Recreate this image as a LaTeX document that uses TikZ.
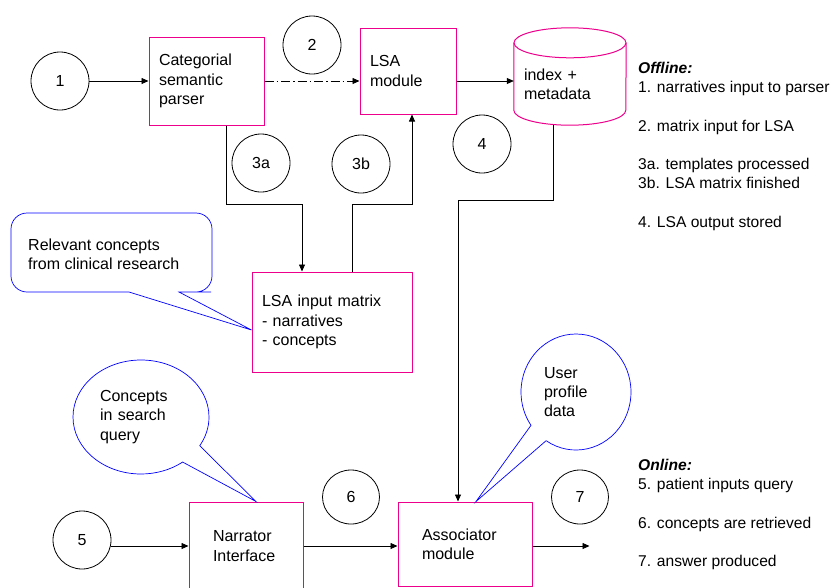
\documentclass[tikz,border=0pt]{standalone}
\usepackage{fontspec}
\setmainfont{Liberation Sans}
\usetikzlibrary{positioning,shapes,arrows.meta}

\begin{document}
\begin{tikzpicture}[
            x=1pt, y=1pt,
            every node/.style={ font=\fontsize{16pt}{19.2pt}\selectfont },
            numcirc/.style={ draw, circle, line width=0.8pt, minimum size=58pt, inner sep=0pt },
            numoval/.style={ draw, ellipse, line width=0.8pt, minimum width=57pt, minimum height=54pt, inner sep=0pt },
            module/.style={ draw=magenta, line width=1pt, align=left, inner xsep=10pt, inner ysep=0pt },
            note/.style={ draw=blue, line width=0.7pt, align=left, inner sep=0pt },
            legend/.style={ anchor=north west, align=left, inner sep=0pt, font=\fontsize{15.6pt}{19.2pt}\selectfont },
            flow/.style={ line width=0.8pt, -{Triangle[length=7pt,width=6pt]} }
        ]
        \useasboundingbox (0,0) rectangle (833,-587);

        % offline part
        \node[module, text width=95pt, minimum height=88pt] (parser) at (206.5,-81) {Categorial\\semantic\\parser};
        \node[module, text width=76pt, minimum height=86pt] (lsa) at (408,-71) {LSA\\module};
        \node[align=left, text width=92pt, inner xsep=10pt, inner ysep=0pt, minimum height=82pt] (store) at (570,-84) {index +\\metadata};
        \draw[magenta, line width=1pt] (store.north west) -- ([yshift=15pt]store.south west)
            arc[start angle=180, end angle=360, x radius=56pt, y radius=15pt] -- (store.north east);
        \draw[magenta, line width=1pt] (store.north) ellipse[x radius=56pt, y radius=15pt];
        \node[module, text width=140pt, minimum height=100pt] (matrix) at (332,-322) {LSA input matrix\\- narratives\\- concepts};

        \node[numcirc] (c1) at (60,-81) {1};
        \node[numcirc] (c2) at (312,-45) {2};
        \node[numcirc] (c3a) at (261,-163) {3a};
        \node[numcirc] (c3b) at (361,-164) {3b};
        \node[numcirc] (c4) at (482,-144) {4};

        % online part
        \node[module, inner xsep=24pt, text width=66pt, minimum height=88pt] (narr) at (246,-546) {Narrator\\Interface};
        \node[module, inner xsep=24pt, text width=86pt, minimum height=84pt] (assoc) at (465,-544) {Associator\\module};
        \coordinate (answer) at ([xshift=57pt]narr.east -| assoc.east);

        \node[numcirc] (c5) at (82,-540) {5};
        \node[numoval] (c6) at (351,-497) {6};
        \node[numoval] (c7) at (580,-497) {7};

        % notes
        \node[align=left, anchor=west, inner sep=0pt] (research) at (28,-254) {Relevant concepts\\from clinical research};
        \draw[blue, line width=0.7pt] ([yshift=-8pt]matrix.west) -- (129,-292) -- (120,-292) [rounded corners=16pt] -- (11,-292)
            -- (11,-213) -- (212,-213) -- (212,-292) -- (195,-292) [sharp corners] -- (179,-292) -- cycle;
        \node[note, ellipse callout, minimum width=136pt, minimum height=114pt, text width=82pt,
            callout absolute pointer={([xshift=10pt]narr.north)}, callout pointer arc=22] (query) at (141,-417) {Concepts\\in search\\query};
        \node[note, ellipse callout, minimum width=110pt, minimum height=116pt, text width=64pt,
            callout absolute pointer={([xshift=11pt]assoc.north)}, callout pointer arc=22] (profile) at (576,-392) {User\\profile\\data};

        % connectors
        \draw[flow] (c1) -- (parser.west);
        \draw[flow, dash pattern=on 9pt off 3pt on 1.5pt off 3pt] (parser.east) -- (parser.east -| lsa.west);
        \draw[flow] (parser.east -| lsa.east) -- (parser.east -| store.west);
        \draw[flow] ([xshift=19.5pt]parser.south) -- ++(0,-79pt) -| ([xshift=-30pt]matrix.north);
        \draw[flow] ([xshift=20pt]matrix.north) -- ++(0,67pt) -| ([xshift=4pt]lsa.south);
        \draw[flow] ([xshift=-17pt]store.south) -- ++(0,-75pt) -| ([xshift=-7pt]assoc.north);
        \draw[flow] (c5.east |- narr.west) -- (narr.west);
        \draw[flow] (narr.east) -- (narr.east -| assoc.west);
        \draw[flow] (narr.east -| assoc.east) -- (answer);

        % legend
        \node[legend] (offline) at (638,-62) {\textbf{\textit{Offline:}}\\1. narratives input to parser\\[19.2pt]2. matrix input for LSA\\[19.2pt]3a. templates processed\\3b. LSA matrix finished\\[19.2pt]4. LSA output stored};
        \node[legend] (online) at (638,-459) {\textbf{\textit{Online:}}\\5. patient inputs query\\[19.2pt]6. concepts are retrieved\\[19.2pt]7. answer produced};
    \end{tikzpicture}
\end{document}
